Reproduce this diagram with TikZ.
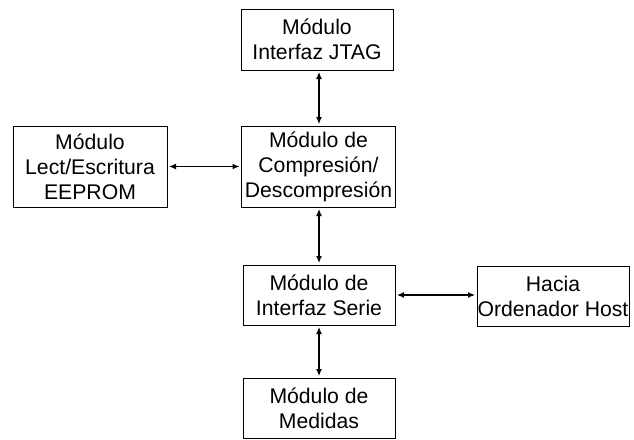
\documentclass[tikz,border=0pt]{standalone}
\usepackage{fontspec}
\setmainfont{Liberation Sans}
\usetikzlibrary{arrows.meta}
\begin{document}
\begin{tikzpicture}[x=1pt,y=-1pt,
  blk/.style={draw,line width=1pt,align=center,font=\fontsize{21.2}{25}\selectfont,inner sep=0pt},
  link/.style={line width=1.2pt,{Latex[length=7pt,width=6pt]}-{Latex[length=7pt,width=6pt]},shorten >=1.5pt,shorten <=1.5pt}]
\useasboundingbox (0,0) rectangle (634,439);
\node[blk,minimum width=152pt,minimum height=61pt] (jtag) at (317,39.5) {Módulo\\Interfaz JTAG};
\node[blk,minimum width=154pt,minimum height=81pt] (comp) at (318.5,166.5) {Módulo de\\Compresión/\\Descompresión};
\node[blk,minimum width=154pt,minimum height=81pt] (eep) at (90,166.5) {Módulo\\Lect/Escritura\\EEPROM};
\node[blk,minimum width=152pt,minimum height=60pt] (serie) at (319,295) {Módulo de\\Interfaz Serie};
\node[blk,minimum width=152pt,minimum height=60pt] (host) at (553,296) {Hacia\\Ordenador Host};
\node[blk,minimum width=152pt,minimum height=60pt] (med) at (319,408) {Módulo de\\Medidas};
\draw[link] (jtag.south -| 319,0) -- (comp.north -| 319,0);
\draw[link] (comp.south -| 319,0) -- (serie.north -| 319,0);
\draw[link] (serie.south -| 319,0) -- (med.north -| 319,0);
\draw[link] (eep.east) -- (comp.west);
\draw[link] (serie.east) -- (host.west |- serie.east);
\end{tikzpicture}
\end{document}
